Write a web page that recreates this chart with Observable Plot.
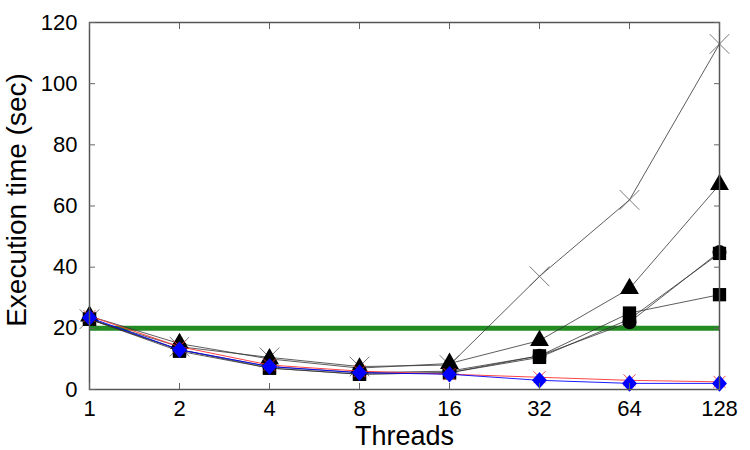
<!DOCTYPE html>
<html>
<head>
<meta charset="utf-8">
<script src="https://cdn.jsdelivr.net/npm/d3@7"></script>
<script src="https://cdn.jsdelivr.net/npm/@observablehq/plot@0.6"></script>
<style>
  html, body { margin: 0; padding: 0; background: #fff; }
  #chart svg { display: block; }
</style>
</head>
<body>
<div id="chart"></div>
<script>
const threads = [1, 2, 4, 8, 16, 32, 64, 128];
const yTicks = [0, 20, 40, 60, 80, 100, 120];
const threshold = 20;

// black series
const seriesCross    = [23, 14, 10.5, 7.5, 8, 37, 62, 113];
const seriesTriangle = [24, 15, 10, 7, 8.5, 16, 33, 67];
const seriesCircle   = [23, 13, 7.5, 5.5, 6, 11, 22, 45];
const seriesSquareA  = [23, 12.5, 7, 5, 5.5, 11, 25, 31];
const seriesSquareB  = [23, 13, 7, 5, 5.5, 10.5, 23, 44.5];
// coloured series
const seriesRed  = [24, 14, 8, 6, 5, 4, 3, 2.5];
const seriesBlue = [23.5, 13, 7.5, 5.5, 5, 3, 2, 2];

const diamond = {
  draw(ctx, size) {
    const h = Math.sqrt(size) * 0.85, w = h * 0.9;
    ctx.moveTo(0, -h); ctx.lineTo(w, 0); ctx.lineTo(0, h); ctx.lineTo(-w, 0); ctx.closePath();
  }
};

const toRows = (vals) => threads.map((t, i) => ({t, v: vals[i]}));

const blackSeries = [
  {vals: seriesCross, symbol: "times", r: 9, filled: false},
  {vals: seriesSquareB, symbol: "square", r: 7.5, filled: true},
  {vals: seriesCircle, symbol: "circle", r: 7, filled: true},
  {vals: seriesTriangle, symbol: "triangle", r: 7, filled: true},
  {vals: seriesSquareA, symbol: "square", r: 7.5, filled: true}
];

const marks = [];
marks.push(Plot.ruleY([threshold], {x1: 1, x2: 128, stroke: "#228b22", strokeWidth: 5}));
for (const s of blackSeries) {
  const rows = toRows(s.vals);
  marks.push(Plot.line(rows, {x: "t", y: "v", stroke: "#333", strokeWidth: 0.8}));
  marks.push(Plot.dot(rows, s.filled
    ? {x: "t", y: "v", symbol: s.symbol, r: s.r, fill: "#000", stroke: "none"}
    : {x: "t", y: "v", symbol: s.symbol, r: s.r, stroke: "#555", strokeWidth: 0.8, fill: "none"}));
}
marks.push(Plot.line(toRows(seriesRed), {x: "t", y: "v", stroke: "#ff3030", strokeWidth: 0.9}));
marks.push(Plot.dot(toRows(seriesRed), {x: "t", y: "v", symbol: "times", r: 5.5, stroke: "#ff3030", strokeWidth: 0.9}));
marks.push(Plot.line(toRows(seriesBlue), {x: "t", y: "v", stroke: "#0000ff", strokeWidth: 0.9}));
marks.push(Plot.dot(toRows(seriesBlue), {x: "t", y: "v", symbol: diamond, r: 5.5, fill: "#0000ff", stroke: "none"}));

// frame and axes
marks.push(Plot.frame({stroke: "#555", strokeWidth: 1.5}));
marks.push(Plot.axisX(threads, {anchor: "bottom", tickSize: -6, tickPadding: 17, tickFormat: d => String(d), stroke: "#666", fontSize: 22, label: null}));
marks.push(Plot.axisX(threads, {anchor: "top", tickSize: -6, tickFormat: () => "", stroke: "#666", label: null}));
marks.push(Plot.axisY(yTicks, {anchor: "left", tickSize: -6, tickPadding: 18, tickFormat: d => String(d), stroke: "#666", fontSize: 22, label: null}));
marks.push(Plot.axisY(yTicks, {anchor: "right", tickSize: -6, tickFormat: () => "", stroke: "#666", label: null}));
marks.push(Plot.text(["Threads"], {frameAnchor: "bottom", textAnchor: "middle", lineAnchor: "middle", dy: 47, fontSize: 27, fill: "#000"}));
marks.push(Plot.text(["Execution time (sec)"], {frameAnchor: "left", textAnchor: "middle", lineAnchor: "middle", dx: -72, dy: -6, rotate: -90, fontSize: 28, fill: "#000"}));

const chart = Plot.plot({
  width: 750,
  height: 450,
  marginLeft: 89,
  marginRight: 31,
  marginTop: 22,
  marginBottom: 61,
  style: {fontFamily: "'Liberation Sans', Arial, sans-serif", color: "#000", background: "#fff"},
  x: {type: "log", base: 2, domain: [1, 128]},
  y: {domain: [0, 120]},
  marks
});
document.getElementById("chart").appendChild(chart);
</script>
</body>
</html>
